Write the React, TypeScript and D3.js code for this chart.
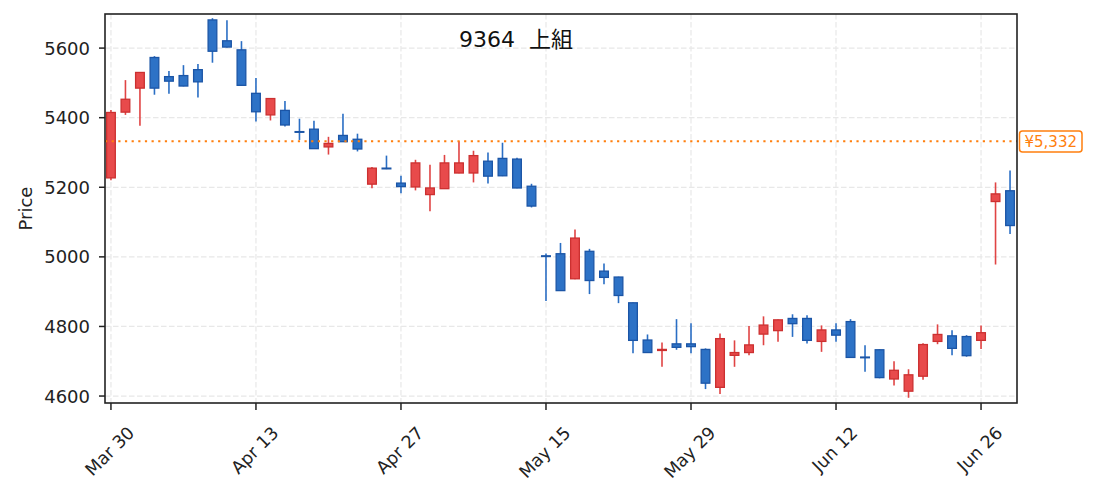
import React from "react";
import * as d3 from "d3";

// ---- data ----
const dates = [
  "Mar 30", "Mar 31", "Apr 1", "Apr 2", "Apr 3", "Apr 6", "Apr 7", "Apr 8", "Apr 9", "Apr 10",
  "Apr 13", "Apr 14", "Apr 15", "Apr 16", "Apr 17", "Apr 20", "Apr 21", "Apr 22", "Apr 23", "Apr 24",
  "Apr 27", "Apr 28", "Apr 30", "May 1", "May 7", "May 8", "May 11", "May 12", "May 13", "May 14",
  "May 15", "May 18", "May 19", "May 20", "May 21", "May 22", "May 25", "May 26", "May 27", "May 28",
  "May 29", "Jun 1", "Jun 2", "Jun 3", "Jun 4", "Jun 5", "Jun 8", "Jun 9", "Jun 10", "Jun 11",
  "Jun 12", "Jun 15", "Jun 16", "Jun 17", "Jun 18", "Jun 19", "Jun 22", "Jun 23", "Jun 24", "Jun 25",
  "Jun 26", "Jun 29", "Jun 30",
];

const opens = [
  5227, 5416, 5485, 5573, 5518, 5521, 5538, 5681, 5621, 5595,
  5470, 5408, 5421, 5360, 5367, 5316, 5349, 5338, 5209, 5255,
  5212, 5201, 5179, 5196, 5241, 5241, 5275, 5283, 5281, 5203,
  5003, 5009, 4937, 5016, 4959, 4942, 4868, 4761, 4731, 4750,
  4750, 4734, 4625, 4717, 4725, 4778, 4788, 4823, 4823, 4757,
  4790, 4814, 4712, 4733, 4649, 4614, 4657, 4757, 4773, 4771,
  4760, 5159, 5190,
];
const highs = [
  5422, 5508, 5531, 5577, 5534, 5551, 5554, 5686, 5680, 5620,
  5514, 5456, 5448, 5397, 5391, 5345, 5411, 5354, 5258, 5291,
  5233, 5279, 5265, 5293, 5332, 5305, 5300, 5328, 5285, 5210,
  5010, 5040, 5079, 5023, 4981, 4943, 4869, 4777, 4754, 4821,
  4809, 4737, 4780, 4760, 4801, 4829, 4820, 4835, 4832, 4803,
  4809, 4821, 4746, 4734, 4700, 4677, 4752, 4806, 4789, 4775,
  4803, 5214, 5248,
];
const lows = [
  5220, 5408, 5377, 5466, 5469, 5490, 5458, 5558, 5602, 5492,
  5389, 5392, 5375, 5336, 5310, 5294, 5330, 5303, 5197, 5252,
  5183, 5191, 5131, 5195, 5240, 5214, 5211, 5232, 5197, 5142,
  4873, 4902, 4936, 4893, 4921, 4867, 4723, 4724, 4684, 4733,
  4723, 4620, 4606, 4684, 4717, 4746, 4756, 4770, 4751, 4727,
  4756, 4710, 4670, 4651, 4630, 4595, 4647, 4749, 4717, 4713,
  4735, 4978, 5066,
];
const closes = [
  5415, 5453, 5530, 5485, 5505, 5491, 5503, 5591, 5603, 5493,
  5417, 5455, 5379, 5358, 5311, 5326, 5331, 5310, 5255, 5253,
  5202, 5270, 5198, 5270, 5270, 5291, 5232, 5233, 5198, 5146,
  5001, 4903, 5054, 4932, 4941, 4889, 4760, 4725, 4734, 4740,
  4742, 4637, 4765, 4725, 4747, 4804, 4819, 4808, 4760, 4790,
  4775, 4711, 4710, 4653, 4674, 4661, 4748, 4777, 4737, 4716,
  4782, 5181, 5090,
];

const tickLabels = ["Mar 30", "Apr 13", "Apr 27", "May 15", "May 29", "Jun 12", "Jun 26"];
const yTicks = [4600, 4800, 5000, 5200, 5400, 5600];
const chartTitle = "9364  上組";
const yAxisLabel = "Price";
const refPrice = 5332;
const refLabel = "¥5,332";

// ---- layout ----
const W = 1095;
const H = 492;
const L = 105, R = 1017, T = 14, B = 403;
const FONT = '"DejaVu Sans", "Noto Sans CJK JP", sans-serif';

const UP_FILL = "#e84a4b";
const UP_EDGE = "#cc3030";
const UP_WICK = "#e04444";
const DN_FILL = "#2d72c6";
const DN_EDGE = "#1b55a6";
const DN_WICK = "#2a6ec4";
const ORANGE = "#ff7f0e";

let measureCtx: CanvasRenderingContext2D | null = null;
function textWidth(s: string, size: number): number {
  if (!measureCtx) {
    const c = document.createElement("canvas");
    measureCtx = c.getContext("2d");
  }
  if (!measureCtx) return s.length * size * 0.6;
  measureCtx.font = `${size}px "DejaVu Sans"`;
  return measureCtx.measureText(s).width;
}

export default function App() {
  const x = d3.scaleLinear().domain([-0.41, 62.48]).range([L, R]);
  const y = d3.scaleLinear().domain([4580, 5698]).range([B, T]);
  const step = x(1) - x(0);
  const bodyW = step * 0.6;

  const candles = dates.map((d, i) => ({
    d,
    i,
    o: opens[i],
    h: highs[i],
    l: lows[i],
    c: closes[i],
  }));

  const xTickIdx = tickLabels.map((t) => dates.indexOf(t));
  const xFont = 17.5;

  return (
    <svg
      width={W}
      height={H}
      viewBox={`0 0 ${W} ${H}`}
      style={{ position: "absolute", left: 0, top: 0, background: "#fff" }}
      fontFamily={FONT}
    >
      <defs>
        <clipPath id="plot">
          <rect x={L} y={T} width={R - L} height={B - T} />
        </clipPath>
      </defs>
      <rect x={0} y={0} width={W} height={H} fill="#fff" />

      {/* grid */}
      <g stroke="#e8e8e8" strokeWidth={1.2} strokeDasharray="5.5 2.5">
        {yTicks.map((t) => (
          <line key={`gy${t}`} x1={L} x2={R} y1={y(t)} y2={y(t)} />
        ))}
        {xTickIdx.map((i) => (
          <line key={`gx${i}`} x1={x(i)} x2={x(i)} y1={T} y2={B} />
        ))}
      </g>

      {/* candles */}
      <g clipPath="url(#plot)">
        {candles.map((k) => {
          const up = k.c >= k.o;
          const cx = x(k.i);
          const yTop = y(Math.max(k.o, k.c));
          const yBot = y(Math.min(k.o, k.c));
          const hgt = Math.max(yBot - yTop, 0.6);
          return (
            <g key={k.d}>
              <line
                x1={cx}
                x2={cx}
                y1={y(k.h)}
                y2={y(k.l)}
                stroke={up ? UP_WICK : DN_WICK}
                strokeWidth={1.6}
              />
              <rect
                x={cx - bodyW / 2}
                y={yTop}
                width={bodyW}
                height={hgt}
                fill={up ? UP_FILL : DN_FILL}
                stroke={up ? UP_EDGE : DN_EDGE}
                strokeWidth={1.3}
              />
            </g>
          );
        })}
      </g>

      {/* reference price line */}
      <line
        x1={L}
        x2={R}
        y1={y(refPrice)}
        y2={y(refPrice)}
        stroke={ORANGE}
        strokeWidth={2}
        strokeDasharray="2.2 4.45"
      />

      {/* spines */}
      <rect x={L} y={T} width={R - L} height={B - T} fill="none" stroke="#222" strokeWidth={1.6} />

      {/* y ticks */}
      {yTicks.map((t) => (
        <g key={`yt${t}`}>
          <line x1={L - 6} x2={L} y1={y(t)} y2={y(t)} stroke="#222" strokeWidth={1.5} />
          <text x={L - 15} y={y(t) + 6.5} textAnchor="end" fontSize={18} fill="#222">
            {t}
          </text>
        </g>
      ))}

      {/* x ticks */}
      {xTickIdx.map((i, n) => {
        const label = tickLabels[n];
        const tx = x(i);
        const w = textWidth(label, xFont);
        const ex = tx + 0.354 * w + 3;
        const ey = 434;
        return (
          <g key={`xt${i}`}>
            <line x1={tx} x2={tx} y1={B} y2={B + 7} stroke="#222" strokeWidth={1.5} />
            <text
              x={ex}
              y={ey}
              textAnchor="end"
              fontSize={xFont}
              fill="#222"
              transform={`rotate(-45, ${ex}, ${ey})`}
            >
              {label}
            </text>
          </g>
        );
      })}

      {/* y label */}
      <text
        x={32.3}
        y={208.5}
        textAnchor="middle"
        fontSize={18}
        fill="#222"
        transform="rotate(-90, 32.3, 208.5)"
      >
        {yAxisLabel}
      </text>

      {/* title */}
      <text
        x={516}
        y={47}
        textAnchor="middle"
        fontSize={22}
        fill="#111"
        xmlSpace="preserve"
        style={{ whiteSpace: "pre" }}
      >
        {chartTitle}
      </text>

      {/* ref price label */}
      <rect
        x={1019.5}
        y={131}
        width={62.5}
        height={21}
        rx={3}
        fill="#fff"
        stroke={ORANGE}
        strokeWidth={1.5}
      />
      <text x={1050.75} y={147} textAnchor="middle" fontSize={15} fill={ORANGE}>
        {refLabel}
      </text>
    </svg>
  );
}
